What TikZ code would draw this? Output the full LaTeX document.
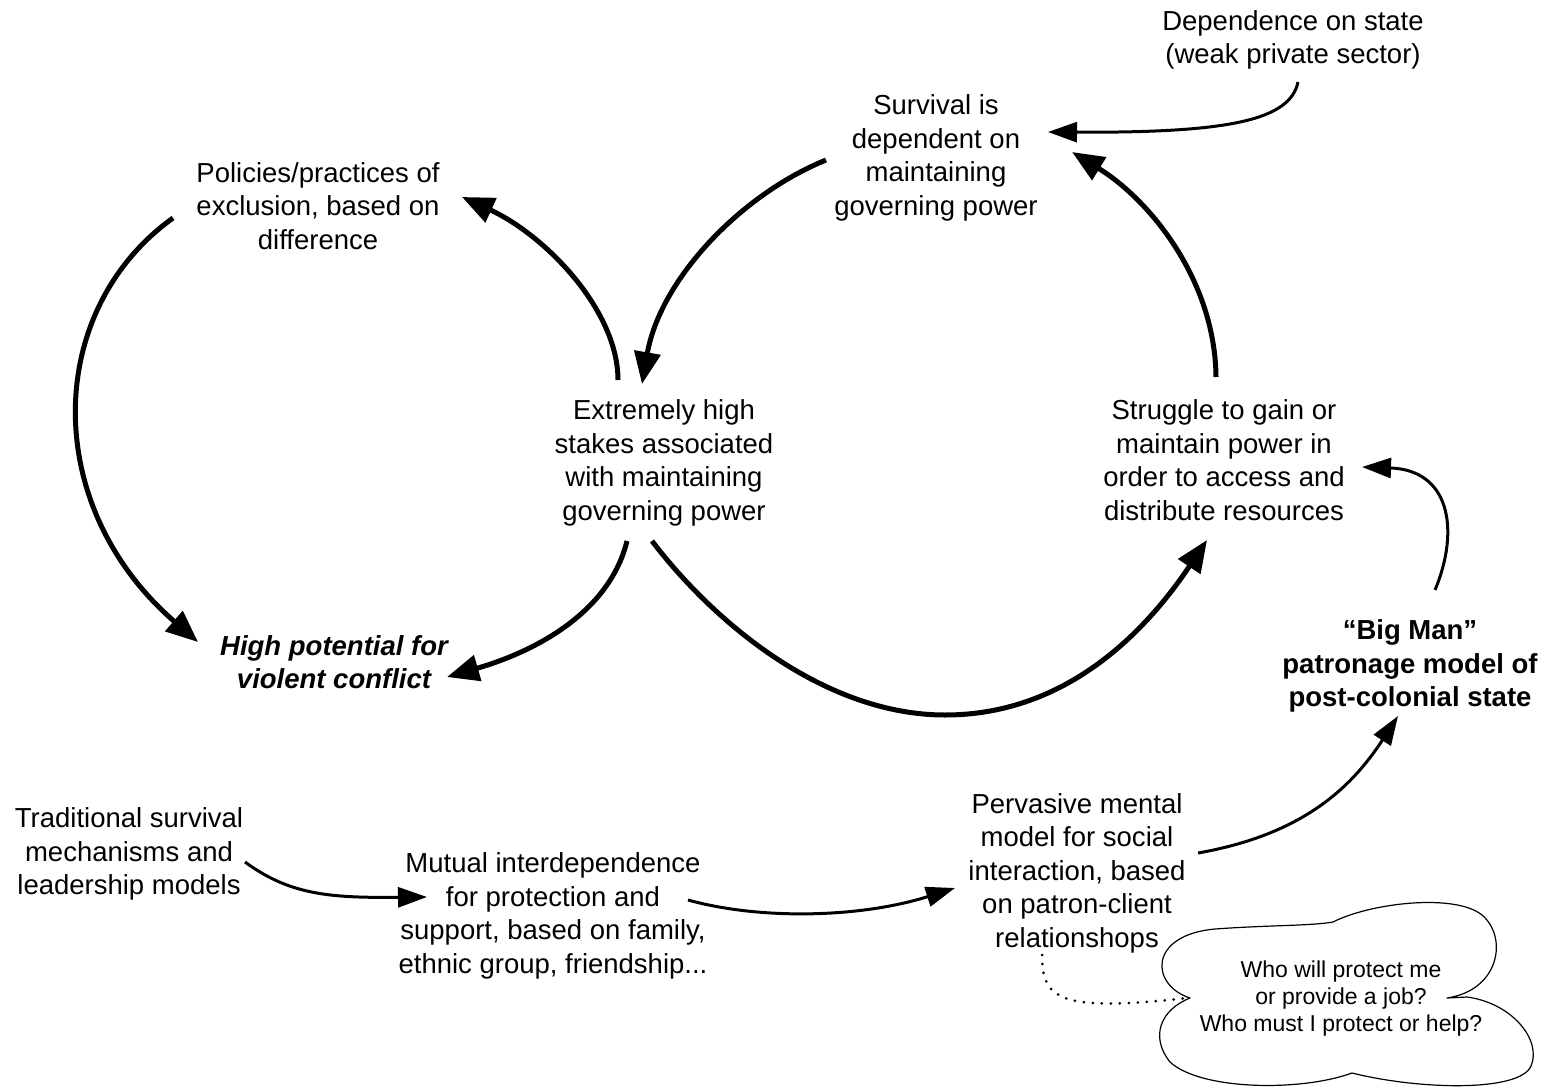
\documentclass[tikz,border=0pt]{standalone}
\usepackage{fontspec}
\setmainfont{Liberation Sans}
\usetikzlibrary{arrows.meta}
\begin{document}
\begin{tikzpicture}[x=1pt,y=-1pt,
  lbl/.style={align=center, inner sep=0pt, font=\fontsize{27.5}{33.5}\selectfont},
  smalllbl/.style={align=center, inner sep=0pt, font=\fontsize{23}{27}\selectfont},
  bigarr/.style={line width=5pt, -{Triangle[length=32pt,width=26pt]}},
  smallarr/.style={line width=3pt, -{Triangle[length=29pt,width=20pt]}},
  dotline/.style={line width=3pt, line cap=round, dash pattern=on 0pt off 9pt},
  cloudline/.style={line width=1.2pt, line join=round}
]
\useasboundingbox (0,0) rectangle (1547,1089);

% nodes
\node[lbl] (dep)  at (1293,40)  {Dependence on state\\(weak private sector)};
\node[lbl] (surv) at (936,158)  {Survival is\\dependent on\\maintaining\\governing power};
\node[lbl] (pol)  at (318,206)  {Policies/practices of\\exclusion, based on\\difference};
\node[lbl] (ext)  at (664,463)  {Extremely high\\stakes associated\\with maintaining\\governing power};
\node[lbl] (str)  at (1224,460) {Struggle to gain or\\maintain power in\\order to access and\\distribute resources};
\node[lbl, font=\fontsize{27.5}{33.5}\selectfont\bfseries\itshape] (high) at (334,662) {High potential for\\violent conflict};
\node[lbl, font=\fontsize{27.5}{33.5}\selectfont\bfseries] (big) at (1410,666) {``Big Man''\\patronage model of\\post-colonial state};
\node[lbl] (trad) at (129,854)  {Traditional survival\\mechanisms and\\leadership models};
\node[lbl] (mut)  at (553,916)  {Mutual interdependence\\for protection and\\support, based on family,\\ethnic group, friendship...};
\node[lbl] (perv) at (1077,873) {Pervasive mental\\model for social\\interaction, based\\on patron-client\\relationshops};

% cloud
\draw[cloudline] (1190,998)
  .. controls (1150,985) and (1148,935) .. (1215,929)
  .. controls (1270,925) and (1310,926) .. (1333,922)
  .. controls (1370,903) and (1455,893) .. (1482,915)
  .. controls (1508,937) and (1500,990) .. (1447,998)
  -- (1467,997)
  .. controls (1512,1003) and (1542,1040) .. (1531,1066)
  .. controls (1520,1092) and (1420,1090) .. (1352,1073)
  .. controls (1300,1092) and (1200,1090) .. (1170,1062)
  .. controls (1150,1037) and (1160,1010) .. (1190,998) -- cycle;
\node[smalllbl] (cloudtxt) at (1341,999) {Who will protect me\\or provide a job?\\Who must I protect or help?};

% connectors
\draw[bigarr] ([shift={(-46,-83)}]ext.center) .. controls (618,310) and (545,235) .. ([shift={(144,-9)}]pol.center);
\draw[bigarr] ([shift={(-145,12)}]pol.center) .. controls (45,310) and (40,505) .. ([shift={(-136,-20)}]high.center);
\draw[bigarr] ([shift={(-37,78)}]ext.center) .. controls (610,610) and (540,650) .. ([shift={(113,15)}]high.center);
\draw[bigarr] ([shift={(-110,2)}]surv.center) .. controls (740,195) and (660,280) .. ([shift={(-22,-79)}]ext.center);
\draw[bigarr] ([shift={(-8,-83)}]str.center) .. controls (1215,280) and (1150,200) .. ([shift={(136,-6)}]surv.center);
\draw[bigarr] ([shift={(-12,78)}]ext.center) .. controls (720,630) and (830,715) .. (945,715)
  .. controls (1060,715) and (1140,640) .. ([shift={(-17,80)}]str.center);
\draw[smallarr] ([shift={(5,42)}]dep.center) .. controls (1290,120) and (1230,133) .. ([shift={(112,-26)}]surv.center);
\draw[smallarr] ([shift={(25,-76)}]big.center) .. controls (1460,530) and (1450,470) .. ([shift={(138,7)}]str.center);
\draw[smallarr] ([shift={(116,8)}]trad.center) .. controls (290,895) and (330,898) .. ([shift={(-126,-19)}]mut.center);
\draw[smallarr] ([shift={(135,-16)}]mut.center) .. controls (760,920) and (860,918) .. ([shift={(-122,15)}]perv.center);
\draw[smallarr] ([shift={(121,-20)}]perv.center) .. controls (1300,835) and (1350,790) .. ([shift={(-12,50)}]big.center);
\draw[dotline] ([shift={(-35,82)}]perv.center) .. controls (1042,1000) and (1060,1012) .. ([shift={(-153,-1)}]cloudtxt.center);
\end{tikzpicture}
\end{document}
